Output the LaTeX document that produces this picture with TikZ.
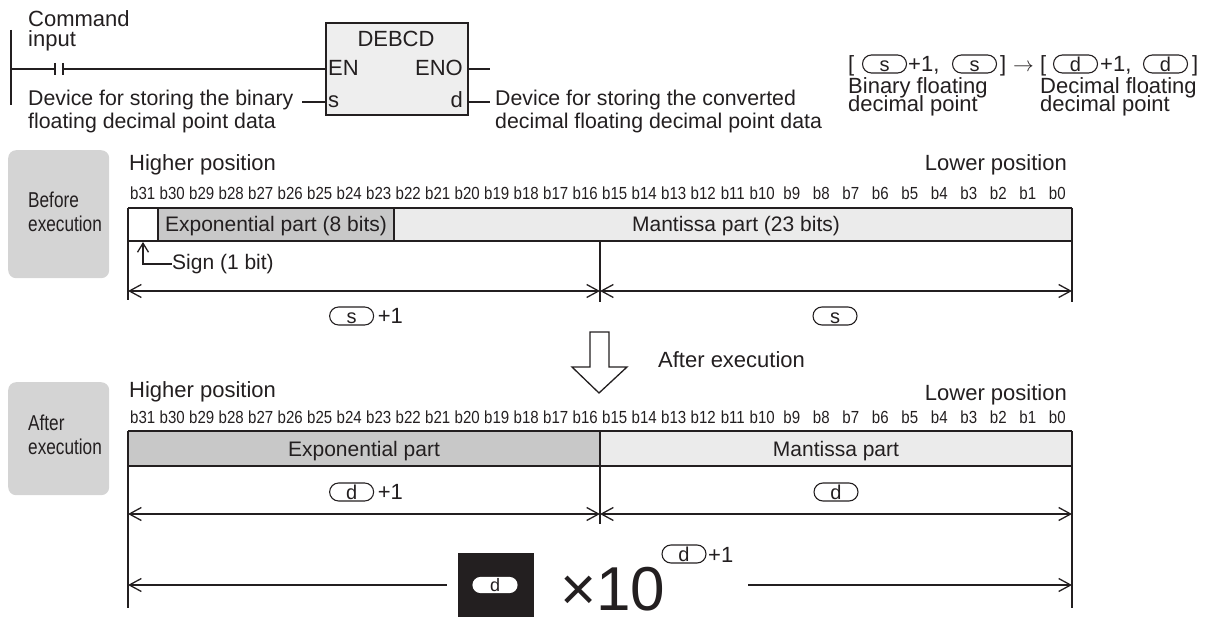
\documentclass[tikz,border=0pt]{standalone}
\usepackage{fontspec}
\setmainfont{Liberation Sans}
\newfontfamily\bitfont[FakeStretch=0.86]{Liberation Sans}
\newfontfamily\narrowfont[FakeStretch=0.8]{Liberation Sans}
\usetikzlibrary{arrows.meta}
\definecolor{ink}{HTML}{231F20}
\definecolor{expgray}{HTML}{C8C8C8}
\definecolor{mangray}{HTML}{EBEBEB}
\definecolor{secgray}{HTML}{D4D4D4}
\definecolor{boxgray}{HTML}{EEEEEE}
\tikzset{
  dimtip/.tip={Straight Barb[length=12pt,width=13pt,line width=1.3pt]},
  signtip/.tip={Straight Barb[length=9pt,width=11pt,line width=1.3pt]},
  ln/.style={draw=ink, line width=1.6pt},
  tbl/.style={draw=ink, line width=2pt},
  dim/.style={draw=ink, line width=1.4pt},
  txt/.style={text=ink, inner sep=0pt, font=\fontsize{22}{26}\selectfont},
  ttxt/.style={txt, font=\fontsize{21}{25}\selectfont},
  stxt/.style={txt, anchor=base west, font=\narrowfont\fontsize{21.5}{25}\selectfont},
  bit/.style={text=ink, inner sep=0pt, anchor=base, font=\bitfont\fontsize{17.5}{20}\selectfont},
  devs/.style={draw=ink, line width=1.1pt, rounded corners=9pt, minimum width=44pt, minimum height=18pt, inner sep=0pt, text height=15pt, text depth=0pt, text=ink, font=\fontsize{20}{20}\selectfont},
  section/.style={fill=secgray, rounded corners=8pt, inner sep=0pt, anchor=north west},
}
\newcommand\dv[1]{\tikz[baseline=(o.base)]\node[devs](o){#1};}
\begin{document}
\begin{tikzpicture}[x=1pt,y=-1pt]
\useasboundingbox (0,0) rectangle (1209,617);
% ---------------- ladder ----------------
\draw[ln] (11,30) -- (11,105);
\node[txt, anchor=base west] (cmd) at (28,27) {Command};
\node[txt, anchor=base west] (inp) at (28,47) {input};
\node[draw=ink, line width=2pt, fill=boxgray, minimum width=142pt, minimum height=92pt, inner sep=0pt, anchor=north west] (fb) at (325,22) {};
\node[txt, anchor=base] (fn) at (396,47) {DEBCD};
\node[txt, anchor=base west] (en) at (328,76) {EN};
\node[txt, anchor=base east] (eno) at (463,76) {ENO};
\node[txt, anchor=base west] (sin) at (328,108) {s};
\node[txt, anchor=base east] (dout) at (463,108) {d};
\coordinate (cA) at (55,69);
\coordinate (cB) at (63,69);
\draw[ln] (11,69) -- (cA);
\draw[ln] (55,63) -- (55,75);
\draw[ln] (63,63) -- (63,75);
\draw[ln] (cB) -- (fb.west |- cB);
\coordinate (enoE) at (490,69);
\draw[ln] (fb.east |- enoE) -- (enoE);
\coordinate (sL) at (302,102);
\draw[ln] (sL) -- (fb.west |- sL);
\coordinate (dR) at (490,102);
\draw[ln] (fb.east |- dR) -- (dR);
\node[txt, anchor=base west, font=\fontsize{21.3}{25}\selectfont] (sd1) at (28,106) {Device for storing the binary};
\node[txt, anchor=base west, font=\fontsize{21.3}{25}\selectfont] (sd2) at (28,129) {floating decimal point data};
\node[txt, anchor=base west, font=\fontsize{21.3}{25}\selectfont] (dd1) at (495,106) {Device for storing the converted};
\node[txt, anchor=base west, font=\fontsize{21.3}{25}\selectfont] (dd2) at (495,129) {decimal floating decimal point data};
% ---------------- formula ----------------
\node[txt, anchor=base west] (fl1) at (848,72) {[};
\node[devs] (fo1) at (884.5,64) {s};
\node[txt, anchor=base west] (fp1) at (908,72) {+1,};
\node[devs] (fo2) at (974.5,64) {s};
\node[txt, anchor=base west] (fr1) at (1000,72) {]};
\node[txt, anchor=base west] (far) at (1013,72) {$\rightarrow$};
\node[txt, anchor=base west] (fl2) at (1040,72) {[};
\node[devs] (fo3) at (1075.5,64) {d};
\node[txt, anchor=base west] (fp2) at (1100,72) {+1,};
\node[devs] (fo4) at (1165.5,64) {d};
\node[txt, anchor=base west] (fr2) at (1192,72) {]};
\node[txt, anchor=base west] (bf1) at (848,94) {Binary floating};
\node[txt, anchor=base west] (bf2) at (848,112) {decimal point};
\node[txt, anchor=base west] (df1) at (1040,94) {Decimal floating};
\node[txt, anchor=base west] (df2) at (1040,112) {decimal point};
% ---------------- before execution ----------------
\node[section, minimum width=101pt, minimum height=128pt] (sec1) at (8,150) {};
\node[stxt] (b1a) at (28,208) {Before};
\node[stxt] (b1b) at (28,232) {execution};
\node[txt, anchor=base west] (hp1) at (129,171) {Higher position};
\node[txt, anchor=base east] (lp1) at (1067,171) {Lower position};
\foreach \i in {0,...,31} \node[bit] (ba\i) at ({128+(31-\i+0.5)*29.5},200) {b\i};
\fill[white] (128,208) rectangle (158,241);
\fill[expgray] (158,208) rectangle (393.5,241);
\fill[mangray] (393.5,208) rectangle (1072,241);
\draw[tbl] (158,208) rectangle (393.5,241);
\draw[tbl] (128,208) -- (1072,208);
\draw[tbl] (128,241) -- (1072,241);
\draw[tbl] (128,208) -- (128,300);
\draw[tbl] (1072,208) -- (1072,302);
\draw[tbl] (600,241) -- (600,302);
\node[ttxt, anchor=base] (ex1) at (276,232) {Exponential part (8 bits)};
\node[ttxt, anchor=base] (ma1) at (736,232) {Mantissa part (23 bits)};
\coordinate (sg0) at (143,242);
\coordinate (sg1) at (143,264);
\node[ttxt, anchor=west] (sign) at (172,264) {Sign (1 bit)};
\draw[dim, line width=1.3pt, arrows={-signtip}] (sign.west) -- (sg1) -- (sg0);
\draw[dim, arrows={dimtip-dimtip}] (128,291) -- (600,291);
\draw[dim, arrows={dimtip-dimtip}] (600,291) -- (1072,291);
\node[txt, anchor=center] (s1lab) at (366,316) {\dv{s}\,+1};
\node[anchor=center] (s0lab) at (835,316) {\dv{s}};
% ---------------- arrow ----------------
\draw[draw=ink, line width=1.3pt, fill=white] (590,332) -- (609,332) -- (609,367) -- (627,367) -- (599,393) -- (572,367) -- (590,367) -- cycle;
\node[txt, anchor=base west] (aft) at (658,367) {After execution};
% ---------------- after execution ----------------
\node[section, minimum width=101pt, minimum height=113pt] (sec2) at (8,382) {};
\node[stxt] (b2a) at (28,430) {After};
\node[stxt] (b2b) at (28,454) {execution};
\node[txt, anchor=base west] (hp2) at (129,397) {Higher position};
\node[txt, anchor=base east] (lp2) at (1067,400) {Lower position};
\foreach \i in {0,...,31} \node[bit] (bb\i) at ({128+(31-\i+0.5)*29.5},423) {b\i};
\fill[expgray] (128,431) rectangle (600,466);
\fill[mangray] (600,431) rectangle (1072,466);
\draw[tbl] (128,431) -- (1072,431);
\draw[tbl] (128,466) -- (1072,466);
\draw[tbl] (600,431) -- (600,524);
\draw[tbl] (128,431) -- (128,608);
\draw[tbl] (1072,431) -- (1072,608);
\node[ttxt, anchor=base] (ex2) at (364,456) {Exponential part};
\node[ttxt, anchor=base] (ma2) at (836,456) {Mantissa part};
\node[txt, anchor=center] (d1lab) at (366,492) {\dv{d}\,+1};
\node[anchor=center] (d0lab) at (836,492) {\dv{d}};
\draw[dim, arrows={dimtip-dimtip}] (128,514) -- (600,514);
\draw[dim, arrows={dimtip-dimtip}] (600,514) -- (1072,514);
% value expression
\fill[ink] (458,553) rectangle (534,629);
\node[devs, draw=white, fill=white, minimum height=15pt, rounded corners=7.5pt, text height=12pt, font=\fontsize{18}{18}\selectfont] (dval) at (495,585) {d};
\node[txt, anchor=base west, text depth=0pt, font=\fontsize{62}{62}\selectfont] (ten) at (560,610) {×10};
\node[devs] (dexp) at (684,554) {d};
\node[txt, anchor=base west] (p1) at (708,562) {+1};
\coordinate (lmid) at (447,585);
\coordinate (rmid) at (748,585);
\draw[dim, arrows={dimtip-}] (128,585) -- (lmid);
\draw[dim, arrows={-dimtip}] (rmid) -- (1072,585);
\end{tikzpicture}
\end{document}
